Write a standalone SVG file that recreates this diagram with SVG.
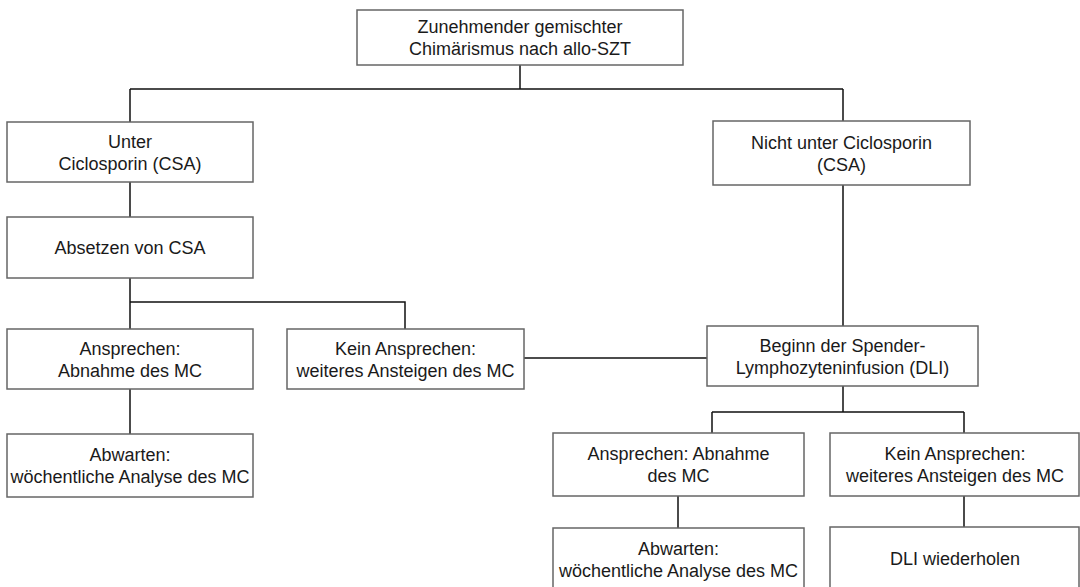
<svg xmlns="http://www.w3.org/2000/svg" width="1080" height="587" viewBox="0 0 1080 587">
  <style>
    .box { fill: #ffffff; stroke: #666666; stroke-width: 1.5; }
    .lbl { font-family: "Liberation Sans", Arial, Helvetica, sans-serif; font-size: 18px; fill: #1a1a1a; text-anchor: middle; }
    .conn { fill: none; stroke: #111111; stroke-width: 1.5; }
  </style>
  <rect width="1080" height="587" fill="#ffffff"/>

  <!-- connectors -->
  <g id="connectors" class="conn">
    <path d="M520 65 V89 M130 89 H843"/>
    <path d="M130 89 V122 M130 182 V217 M130 278 V329"/>
    <path d="M130 302 H405 V329"/>
    <path d="M130 389 V434"/>
    <path d="M843 89 V121 M843 185 V326"/>
    <path d="M524 358 H707"/>
    <path d="M843 386 V412 M712 412 H964 M712 412 V433 M964 412 V433"/>
    <path d="M678 496 V528 M964 496 V527"/>
  </g>

  <!-- root -->
  <g id="n-root">
    <rect class="box" x="357" y="10" width="326" height="55"/>
    <text class="lbl" x="520" y="33">Zunehmender gemischter</text>
    <text class="lbl" x="520" y="55">Chimärismus nach allo-SZT</text>
  </g>

  <!-- left branch -->
  <g id="n-unter-csa">
    <rect class="box" x="7" y="122" width="246" height="60"/>
    <text class="lbl" x="130" y="147.5">Unter</text>
    <text class="lbl" x="130" y="169.5">Ciclosporin (CSA)</text>
  </g>
  <g id="n-absetzen">
    <rect class="box" x="7" y="217" width="246" height="61"/>
    <text class="lbl" x="130" y="254">Absetzen von CSA</text>
  </g>
  <g id="n-ansprechen-l">
    <rect class="box" x="7" y="329" width="246" height="60"/>
    <text class="lbl" x="130" y="354.5">Ansprechen:</text>
    <text class="lbl" x="130" y="376.5">Abnahme des MC</text>
  </g>
  <g id="n-kein-l">
    <rect class="box" x="287" y="329" width="237" height="60"/>
    <text class="lbl" x="405.5" y="354.5">Kein Ansprechen:</text>
    <text class="lbl" x="405.5" y="376.5">weiteres Ansteigen des MC</text>
  </g>
  <g id="n-abwarten-l">
    <rect class="box" x="7" y="434" width="246" height="63"/>
    <text class="lbl" x="130" y="461">Abwarten:</text>
    <text class="lbl" x="130" y="483">wöchentliche Analyse des MC</text>
  </g>

  <!-- right branch -->
  <g id="n-nicht-csa">
    <rect class="box" x="713" y="121" width="257" height="64"/>
    <text class="lbl" x="841.5" y="148.5">Nicht unter Ciclosporin</text>
    <text class="lbl" x="841.5" y="170.5">(CSA)</text>
  </g>
  <g id="n-dli">
    <rect class="box" x="707" y="326" width="271" height="60"/>
    <text class="lbl" x="842.5" y="351.5">Beginn der Spender-</text>
    <text class="lbl" x="842.5" y="373.5">Lymphozyteninfusion (DLI)</text>
  </g>
  <g id="n-ansprechen-r">
    <rect class="box" x="553" y="433" width="251" height="63"/>
    <text class="lbl" x="678.5" y="460">Ansprechen: Abnahme</text>
    <text class="lbl" x="678.5" y="482">des MC</text>
  </g>
  <g id="n-kein-r">
    <rect class="box" x="830" y="433" width="249" height="63"/>
    <text class="lbl" x="955" y="460">Kein Ansprechen:</text>
    <text class="lbl" x="955" y="482">weiteres Ansteigen des MC</text>
  </g>
  <g id="n-abwarten-r">
    <rect class="box" x="553" y="528" width="251" height="63"/>
    <text class="lbl" x="678.5" y="555">Abwarten:</text>
    <text class="lbl" x="678.5" y="577">wöchentliche Analyse des MC</text>
  </g>
  <g id="n-dli-wiederholen">
    <rect class="box" x="830" y="527" width="249" height="63"/>
    <text class="lbl" x="955" y="564.5">DLI wiederholen</text>
  </g>
</svg>
